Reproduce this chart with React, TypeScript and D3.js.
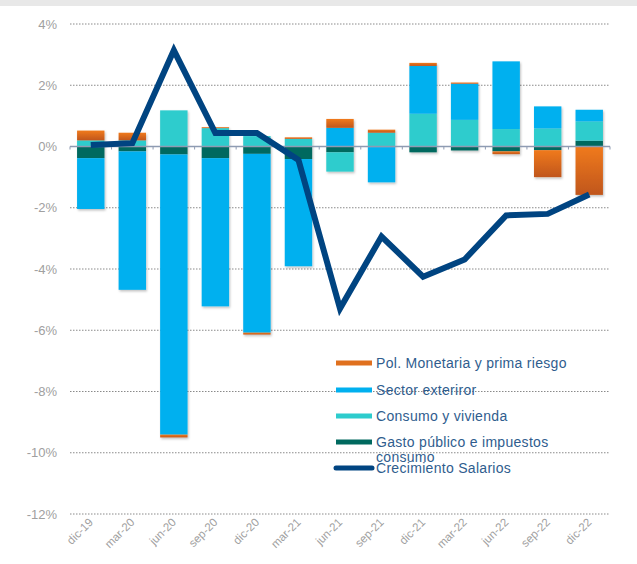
import React from "react";
import * as d3 from "d3";

const categories = ["dic-19", "mar-20", "jun-20", "sep-20", "dic-20", "mar-21", "jun-21", "sep-21", "dic-21", "mar-22", "jun-22", "sep-22", "dic-22"];

// stacked in this order (Excel style: positives up, negatives down)
const gastoPublico = [-0.38, -0.16, -0.26, -0.38, -0.24, -0.41, -0.19, -0.02, -0.19, -0.13, -0.16, -0.12, 0.19];
const consumoVivienda = [0.2, 0.2, 1.18, 0.6, 0.34, 0.25, -0.63, 0.45, 1.07, 0.87, 0.57, 0.59, 0.63];
const sectorExterior = [-1.66, -4.52, -9.15, -4.84, -5.84, -3.5, 0.61, -1.15, 1.56, 1.18, 2.21, 0.72, 0.38];
const polMonetaria = [0.32, 0.25, -0.09, 0.03, -0.06, 0.05, 0.29, 0.1, 0.1, 0.04, -0.09, -0.88, -1.58];
const salarios = [0.05, 0.11, 3.14, 0.44, 0.44, -0.44, -5.29, -2.94, -4.25, -3.69, -2.25, -2.2, -1.57];

const yTicks = [4, 2, 0, -2, -4, -6, -8, -10, -12];

const series = [
  { name: "Gasto público e impuestos consumo", values: gastoPublico, color: "#00695f" },
  { name: "Consumo y vivienda", values: consumoVivienda, color: "#2dcccd" },
  { name: "Sector exteriror", values: sectorExterior, color: "#00b0ef" },
  { name: "Pol. Monetaria y prima riesgo", values: polMonetaria, color: "url(#orangeGrad)" },
];

const width = 637;
const height = 564;

const App = () => {
  const x = d3.scaleBand().domain(categories).range([70, 610]).paddingInner(0.34).paddingOuter(0.17);
  const y = d3.scaleLinear().domain([-12, 4]).range([514, 24]);

  // compute stacks
  const rects: { x: number; y0: number; y1: number; color: string; key: string }[] = [];
  categories.forEach((c, i) => {
    let pos = 0;
    let neg = 0;
    series.forEach((s) => {
      const v = s.values[i];
      if (v >= 0) {
        rects.push({ x: x(c)!, y0: pos, y1: pos + v, color: s.color, key: c + s.name });
        pos += v;
      } else {
        rects.push({ x: x(c)!, y0: neg, y1: neg + v, color: s.color, key: c + s.name });
        neg += v;
      }
    });
  });

  const step = x.step();
  const centre = (c: string) => x(c)! + x.bandwidth() / 2;

  const line = d3.line<number>()
    .x((_, i) => centre(categories[i]))
    .y((d) => y(d));

  const legend = [
    { label: "Pol. Monetaria y prima riesgo", color: "#e0701e", y: 363 },
    { label: "Sector exteriror", color: "#00b0ef", y: 390 },
    { label: "Consumo y vivienda", color: "#2dcccd", y: 416 },
    { label: "Gasto público e impuestos", color: "#00695f", y: 442, extra: "consumo" },
  ];

  const legendText = { fontSize: 14, fill: "#2f5d8e", letterSpacing: 0.3 };

  return (
    <svg width={width} height={height} style={{ position: "absolute", left: 0, top: 0 }} fontFamily="Liberation Sans, Arial, sans-serif">
      <defs>
        <linearGradient id="orangeGrad" x1="0" y1="0" x2="0" y2="1">
          <stop offset="0%" stopColor="#f07a1e" />
          <stop offset="100%" stopColor="#c0561a" />
        </linearGradient>
        <filter id="shadow" x="-10%" y="-10%" width="130%" height="130%">
          <feDropShadow dx="1" dy="1.5" stdDeviation="1" floodColor="#000" floodOpacity="0.25" />
        </filter>
      </defs>
      <rect x={0} y={0} width={width} height={height} fill="#fff" />
      <rect x={0} y={0} width={width} height={6} fill="#e8e8e8" />

      {/* grid + y labels */}
      {yTicks.map((t) => (
        <g key={t}>
          {t !== 0 && (
            <line x1={70} x2={610} y1={y(t)} y2={y(t)} stroke="#8a8a8a" strokeWidth={1} strokeDasharray="1.5,1.5" />
          )}
          <text x={57} y={y(t)} dy="0.35em" textAnchor="end" fontSize={13} fill="#a0a0a0">
            {t}%
          </text>
        </g>
      ))}

      {/* bars */}
      <g filter="url(#shadow)">
        {rects.map((r) => (
          <rect
            key={r.key}
            x={r.x}
            width={x.bandwidth()}
            y={y(Math.max(r.y0, r.y1))}
            height={Math.abs(y(r.y0) - y(r.y1))}
            fill={r.color}
          />
        ))}
      </g>

      {/* zero axis */}
      <line x1={70} x2={610} y1={y(0)} y2={y(0)} stroke="#8e9bb2" strokeWidth={1.5} />
      {d3.range(categories.length + 1).map((i) => (
        <line key={i} x1={70 + i * step} x2={70 + i * step} y1={y(0)} y2={y(0) + 3} stroke="#8e9bb2" strokeWidth={1} />
      ))}

      {/* x labels */}
      {categories.map((c) => (
        <text
          key={c}
          transform={`translate(${centre(c) + 3},${523}) rotate(-45)`}
          textAnchor="end"
          fontSize={11.5}
          fill="#a0a0a0"
        >
          {c}
        </text>
      ))}

      {/* legend */}
      {legend.map((l) => (
        <g key={l.label}>
          <rect x={336} y={l.y - 2.5} width={36} height={5} fill={l.color} />
          <text x={376} y={l.y} dy="0.35em" {...legendText}>
            {l.label}
          </text>
          {l.extra && (
            <text x={376} y={l.y + 15} dy="0.35em" {...legendText}>
              {l.extra}
            </text>
          )}
        </g>
      ))}
      <line x1={336} x2={372} y1={468} y2={468} stroke="#004481" strokeWidth={5} strokeLinecap="round" />
      <text x={376} y={468} dy="0.35em" {...legendText}>
        Crecimiento Salarios
      </text>

      {/* wage line */}
      <path d={line(salarios) ?? ""} fill="none" stroke="#004481" strokeWidth={6} strokeLinejoin="miter" />
    </svg>
  );
};

export default App;
